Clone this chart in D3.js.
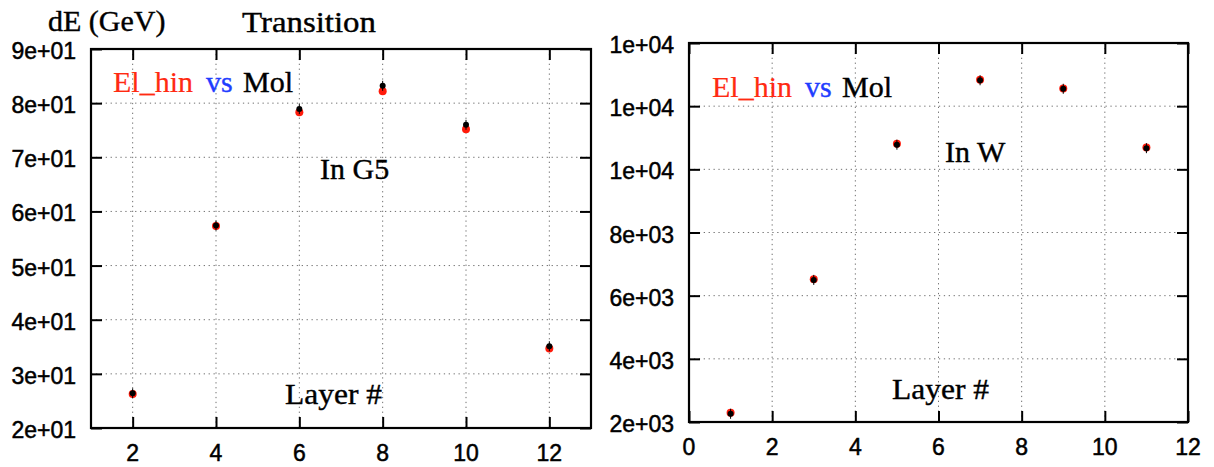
<!DOCTYPE html>
<html><head><meta charset="utf-8">
<script src="https://cdn.jsdelivr.net/npm/d3@7"></script>
<style>
body{margin:0;background:#fff;}
svg{display:block;}
</style></head>
<body>
<svg id="chart" width="1214" height="467"></svg>
<script>
// ---- data ----
const layersG5 = [2, 4, 6, 8, 10, 12];
const molG5 = [26.4, 57.4, 78.9, 83.2, 76.0, 35.1];
const elhinG5 = [26.3, 57.3, 78.3, 82.2, 75.2, 34.7];
const layersW = [1, 3, 5, 7, 9, 11];
const molW = [2260, 6500, 10780, 12820, 12550, 10670];
const elhinW = [2290, 6520, 10810, 12840, 12560, 10690];
const xTicksG5 = [2, 4, 6, 8, 10, 12];
const yTicksG5 = [20, 30, 40, 50, 60, 70, 80, 90];
const xTicksW = [0, 2, 4, 6, 8, 10, 12];
const yTicksW = [2000, 4000, 6000, 8000, 10000, 12000, 14000];

const svg = d3.select("#chart");
const sansFont = "'Liberation Sans', Arial, sans-serif";
const serifFont = "'Liberation Serif', 'Times New Roman', serif";

function expFmt(v) {
  const s = d3.format(".0e")(v); // e.g. 9e+1
  return s.replace(/e([+-])(\d)$/, "e$10$2");
}
function heavy(sel, color, w) {
  return sel.attr("stroke", color).attr("stroke-width", w).attr("paint-order", "stroke");
}

function panel(cfg) {
  const x = d3.scaleLinear().domain(cfg.xDomain).range([cfg.left, cfg.right]);
  const y = d3.scaleLinear().domain(cfg.yDomain).range([cfg.bottom, cfg.top]);
  const g = svg.append("g");
  const tickLen = 11;

  // grid
  const grid = g.append("g").attr("stroke", "#707070").attr("stroke-width", 1)
    .attr("stroke-dasharray", "1.3,3.6");
  grid.selectAll(".vx").data(cfg.xTicks.filter(t => x(t) > cfg.left + 2 && x(t) < cfg.right - 2))
    .join("line").attr("x1", d => x(d)).attr("x2", d => x(d))
    .attr("y1", cfg.top).attr("y2", cfg.bottom);
  grid.selectAll(".hy").data(cfg.yTicks.filter(t => y(t) > cfg.top + 2 && y(t) < cfg.bottom - 2))
    .join("line").attr("y1", d => y(d)).attr("y2", d => y(d))
    .attr("x1", cfg.left).attr("x2", cfg.right);

  // axes with inward ticks
  const axB = d3.axisBottom(x).tickValues(cfg.xTicks).tickSizeInner(-tickLen).tickSizeOuter(0).tickFormat("");
  const axT = d3.axisTop(x).tickValues(cfg.xTicks).tickSizeInner(-tickLen).tickSizeOuter(0).tickFormat("");
  const axL = d3.axisLeft(y).tickValues(cfg.yTicks).tickSizeInner(-tickLen).tickSizeOuter(0).tickFormat("");
  const axR = d3.axisRight(y).tickValues(cfg.yTicks).tickSizeInner(-tickLen).tickSizeOuter(0).tickFormat("");
  [[axB, `translate(0,${cfg.bottom})`], [axT, `translate(0,${cfg.top})`],
   [axL, `translate(${cfg.left},0)`], [axR, `translate(${cfg.right},0)`]].forEach(([ax, tr]) => {
    const a = g.append("g").attr("transform", tr).call(ax);
    a.select(".domain").remove();
    a.selectAll("line").attr("stroke", "#000").attr("stroke-width", 2);
  });

  // frame
  g.append("rect").attr("x", cfg.left).attr("y", cfg.top)
    .attr("width", cfg.right - cfg.left).attr("height", cfg.bottom - cfg.top)
    .attr("fill", "none").attr("stroke", "#000").attr("stroke-width", 2.2);

  // tick labels
  heavy(g.selectAll(".xl").data(cfg.xTicks).join("text")
    .attr("x", d => x(d)).attr("y", cfg.bottom + 33)
    .attr("text-anchor", "middle").attr("font-family", sansFont).attr("font-size", 23)
    .attr("fill", "#000").text(d => d3.format("d")(d)), "#000", 0.5);
  heavy(g.selectAll(".yl").data(cfg.yTicks).join("text")
    .attr("x", cfg.left - 15).attr("y", d => y(d) + 10)
    .attr("text-anchor", "end").attr("font-family", sansFont).attr("font-size", 23)
    .attr("fill", "#000").text(d => expFmt(d)), "#000", 0.5);

  // points
  const pts = cfg.xs.map((xv, i) => ({x: xv, mol: cfg.mol[i], el: cfg.el[i]}));
  g.selectAll(".red").data(pts).join("circle")
    .attr("cx", d => x(d.x)).attr("cy", d => y(d.el)).attr("r", 4).attr("fill", "#ff1a0a");
  g.selectAll(".err").data(pts).join("line")
    .attr("x1", d => x(d.x)).attr("x2", d => x(d.x))
    .attr("y1", d => y(d.mol) - 5).attr("y2", d => y(d.mol) + 5)
    .attr("stroke", "#000").attr("stroke-width", 1);
  g.selectAll(".blk").data(pts).join("circle")
    .attr("cx", d => x(d.x)).attr("cy", d => y(d.mol)).attr("r", 3).attr("fill", "#000");

  // annotations
  const ann = cfg.ann;
  const leg = g.append("text").attr("y", ann.legY).attr("font-family", serifFont).attr("font-size", 30);
  heavy(leg.append("tspan").attr("x", ann.legX).attr("fill", "#ff2a12").text("El_hin"), "#ff2a12", 0.2);
  heavy(leg.append("tspan").attr("x", ann.legX + 93).attr("fill", "#1f3dff").text("vs"), "#1f3dff", 0.4);
  heavy(leg.append("tspan").attr("x", ann.legX + 130).attr("fill", "#000").text("Mol"), "#000", 0.4);
  heavy(g.append("text").attr("x", ann.inX).attr("y", ann.inY).attr("font-family", serifFont)
    .attr("font-size", 30).attr("fill", "#000").text(cfg.inText), "#000", 0.4);
  heavy(g.append("text").attr("x", ann.layX).attr("y", ann.layY).attr("font-family", serifFont)
    .attr("font-size", 30).attr("fill", "#000").attr("textLength", 97).attr("lengthAdjust", "spacingAndGlyphs")
    .text("Layer #"), "#000", 0.4);
}

panel({
  xDomain: [1, 13], yDomain: [20, 90], left: 91, right: 591, top: 49, bottom: 428,
  xTicks: xTicksG5, yTicks: yTicksG5, xs: layersG5, mol: molG5, el: elhinG5,
  inText: "In G5",
  ann: {legX: 113, legY: 92, inX: 320, inY: 179, layX: 285, layY: 404}
});
panel({
  xDomain: [0, 12], yDomain: [2000, 14000], left: 689, right: 1188, top: 43, bottom: 422,
  xTicks: xTicksW, yTicks: yTicksW, xs: layersW, mol: molW, el: elhinW,
  inText: "In W",
  ann: {legX: 712, legY: 97, inX: 945, inY: 162, layX: 892, layY: 399}
});

// titles
heavy(svg.append("text").attr("x", 48).attr("y", 31).attr("font-family", serifFont).attr("font-size", 30)
  .attr("fill", "#000").text("dE (GeV)"), "#000", 0.4);
heavy(svg.append("text").attr("x", 242).attr("y", 32).attr("font-family", serifFont).attr("font-size", 30)
  .attr("fill", "#000").attr("textLength", 134).attr("lengthAdjust", "spacingAndGlyphs").text("Transition"), "#000", 0.4);
</script>
</body></html>
